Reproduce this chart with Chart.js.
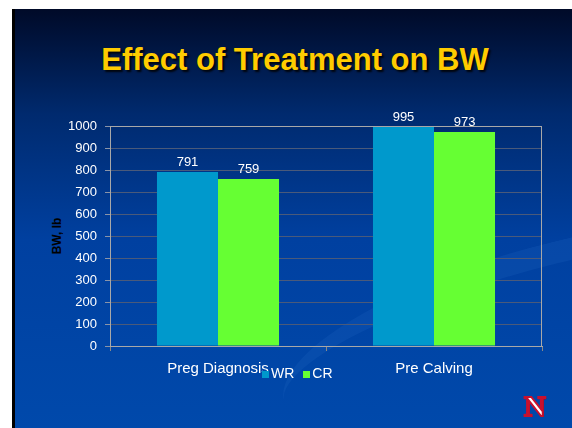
<!DOCTYPE html>
<html>
<head>
<meta charset="utf-8">
<script src="https://cdn.jsdelivr.net/npm/chart.js@4"></script>
<style>
html,body{margin:0;padding:0;background:#fff;width:572px;height:428px;overflow:hidden;}
#slide{position:absolute;left:12px;top:9px;width:557px;height:419px;border-left:3px solid #000;
 background:linear-gradient(180deg,#000a28 0%,#002a6e 25%,#0040a0 55%,#0049ab 100%);overflow:hidden;}
#swoosh{position:absolute;left:260px;top:230px;width:600px;height:160px;border-radius:50%;
 border-top:22px solid rgba(40,110,200,0.18);transform:rotate(-14deg);}
#title{position:absolute;left:0;top:42px;width:590px;text-align:center;font:bold 31px "Liberation Sans",Arial,sans-serif;
 color:#ffcc00;text-shadow:2px 2px 2px rgba(0,0,0,0.85);white-space:nowrap;}
#ytitle{position:absolute;left:57px;top:236px;transform:translate(-50%,-50%) rotate(-90deg);
 font:bold 12px "Liberation Sans",Arial,sans-serif;color:#000;white-space:nowrap;}
#legend{position:absolute;top:365px;left:262px;font:14px "Liberation Sans",Arial,sans-serif;color:#fff;white-space:nowrap;}
#legend span.item{display:inline-block;margin-right:9px;}
#legend span.box{display:inline-block;width:7px;height:7px;margin-right:2px;vertical-align:0px;}
#logo{position:absolute;left:524px;top:389px;font:bold 30px "Liberation Serif","DejaVu Serif",serif;color:#fff;
 -webkit-text-stroke:2px #c8102e;text-shadow:1px 1px 0 #800;}
canvas{position:absolute;left:0;top:0;}
</style>
</head>
<body>
<div id="slide"><div id="swoosh"></div></div>
<div id="title">Effect of Treatment on BW</div>
<div id="ytitle">BW, lb</div>
<canvas id="c" width="572" height="428"></canvas>
<div id="legend"></div>
<div id="logo">N</div>
<script>
const categories = ["Preg Diagnosis", "Pre Calving"];
const seriesNames = ["WR", "CR"];
const wrValues = [791, 995];
const crValues = [759, 973];
const yTicks = [0,100,200,300,400,500,600,700,800,900,1000];
const colors = ["#0099cc", "#66ff33"];

const legendEl = document.getElementById('legend');
seriesNames.forEach((n,i)=>{
  const s=document.createElement('span');s.className='item';
  s.innerHTML='<span class="box" style="background:'+colors[i]+'"></span>'+n;
  legendEl.appendChild(s);
});

const frame = {
  id:'frame',
  afterDatasetsDraw(chart){
    const {ctx, chartArea:a} = chart;
    ctx.save();
    ctx.strokeStyle='#a8a8a8';ctx.lineWidth=1;
    ctx.beginPath();
    ctx.moveTo(a.left,a.top+0.5);ctx.lineTo(a.right-0.5,a.top+0.5);ctx.lineTo(a.right-0.5,a.bottom);
    ctx.stroke();
    ctx.fillStyle='#fff';ctx.font='13px "Liberation Sans", Arial, sans-serif';
    ctx.textAlign='center';ctx.textBaseline='alphabetic';
    chart.data.datasets.forEach((ds,di)=>{
      chart.getDatasetMeta(di).data.forEach((el,i)=>{
        ctx.fillText(String(ds.data[i]), el.x, el.y-6);
      });
    });
    ctx.restore();
  }
};

new Chart(document.getElementById('c'),{
  type:'bar',
  data:{
    labels:categories,
    datasets:[
      {label:seriesNames[0],data:wrValues,backgroundColor:colors[0],categoryPercentage:0.565,barPercentage:1},
      {label:seriesNames[1],data:crValues,backgroundColor:colors[1],categoryPercentage:0.565,barPercentage:1}
    ]
  },
  options:{
    responsive:false,animation:false,
    layout:{padding:{top:126,right:30,bottom:50,left:0}},
    plugins:{legend:{display:false},tooltip:{enabled:false},title:{display:false}},
    scales:{
      x:{
        afterFit(s){s.height=32;},
        grid:{drawOnChartArea:false,drawTicks:true,tickLength:5,color:'#888'},
        border:{color:'#a8a8a8'},
        ticks:{color:'#fff',font:{family:'"Liberation Sans", Arial, sans-serif',size:15},padding:9}
      },
      y:{
        min:0,max:1000,
        afterFit(s){s.width=110;},
        afterBuildTicks(s){s.ticks=yTicks.map(v=>({value:v}));},
        grid:{color:(c)=>c.tick&&c.tick.value===1000?'#a8a8a8':'#4a5a7a',tickLength:5,
              tickColor:'#8a94a8'},
        border:{color:'#a8a8a8'},
        ticks:{color:'#fff',font:{family:'"Liberation Sans", Arial, sans-serif',size:13},padding:8,
               callback:(v)=>String(v)}
      }
    }
  },
  plugins:[frame]
});
</script>
</body>
</html>
